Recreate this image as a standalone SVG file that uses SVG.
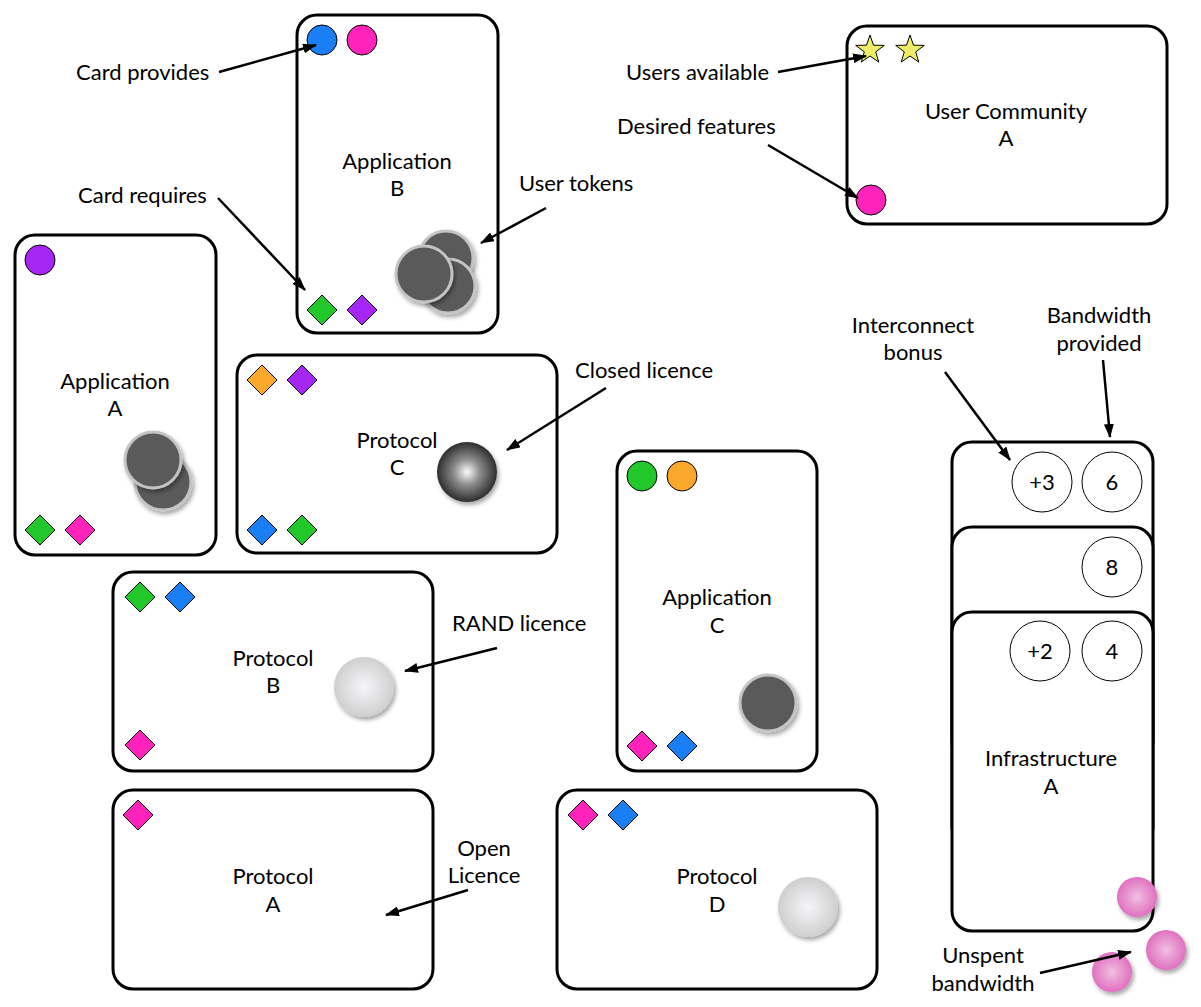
<svg xmlns="http://www.w3.org/2000/svg" width="1201" height="1007" viewBox="0 0 1201 1007">
<style>
.card{fill:#fff;stroke:#000;stroke-width:3}
.t{font-family:Lato,"Open Sans","Liberation Sans",sans-serif;font-size:22px;fill:#000;text-anchor:middle}
.l{font-family:Lato,"Open Sans","Liberation Sans",sans-serif;font-size:22px;fill:#000}
.sym{stroke:#000;stroke-width:1}
.tok{fill:#5a5a5a;stroke:#c4c4c4;stroke-width:3;filter:url(#sh)}
.num{fill:#fff;stroke:#000;stroke-width:1}
.conn line{stroke:#000;stroke-width:2.5;marker-end:url(#ah)}
</style>
<defs>
<marker id="ah" viewBox="0 0 14 10" refX="13" refY="5" markerWidth="14" markerHeight="10" markerUnits="userSpaceOnUse" orient="auto">
<path d="M0,0 L14,5 L0,10 Z" fill="#000"/>
</marker>
<filter id="sh" x="-30%" y="-30%" width="160%" height="160%">
<feDropShadow dx="2" dy="3" stdDeviation="2" flood-color="#000" flood-opacity="0.35"/>
</filter>
<radialGradient id="dark" cx="0.5" cy="0.5" r="0.5">
<stop offset="0" stop-color="#fafafa"/>
<stop offset="0.45" stop-color="#8a8a8a"/>
<stop offset="1" stop-color="#2e2e2e"/>
</radialGradient>
<radialGradient id="light" cx="0.5" cy="0.5" r="0.5">
<stop offset="0" stop-color="#f6f6fa"/>
<stop offset="1" stop-color="#cfcfcf"/>
</radialGradient>
<radialGradient id="pink" cx="0.5" cy="0.5" r="0.5">
<stop offset="0" stop-color="#f0bfe0"/>
<stop offset="1" stop-color="#e070c0"/>
</radialGradient>
<path id="dia" d="M0,-15 L15,0 L0,15 L-15,0 Z"/>
<path id="star" d="M0,-15 L3.5,-4.8 L14.3,-4.6 L5.7,1.9 L8.8,12.1 L0,6 L-8.8,12.1 L-5.7,1.9 L-14.3,-4.6 L-3.5,-4.8 Z"/>
</defs>
<rect width="1201" height="1007" fill="#fff"/>

<g id="app-b">
<rect class="card" x="297" y="15" width="201" height="318" rx="20"/>
<circle class="sym" cx="322" cy="40" r="15" fill="#1a7ff5"/>
<circle class="sym" cx="362" cy="40" r="15" fill="#ff22bb"/>
<text class="t" x="397" y="169">Application</text>
<text class="t" x="397" y="196">B</text>
<circle class="tok" cx="446" cy="258" r="27"/>
<circle class="tok" cx="448" cy="286" r="27"/>
<circle class="tok" cx="424" cy="274" r="28"/>
<use href="#dia" x="322" y="310" class="sym" fill="#22c82a"/>
<use href="#dia" x="362" y="310" class="sym" fill="#a526f5"/>
</g>

<g id="user-community-a">
<rect class="card" x="847" y="26" width="320" height="198" rx="20"/>
<use href="#star" x="870" y="50" class="sym" fill="#eeee66"/>
<use href="#star" x="910" y="50" class="sym" fill="#eeee66"/>
<text class="t" x="1006" y="119">User Community</text>
<text class="t" x="1006" y="146">A</text>
<circle class="sym" cx="871" cy="200" r="15" fill="#ff22bb"/>
</g>

<g id="app-a">
<rect class="card" x="15" y="235" width="201" height="320" rx="20"/>
<circle class="sym" cx="40" cy="260" r="15" fill="#a526f5"/>
<text class="t" x="115" y="389">Application</text>
<text class="t" x="115" y="416">A</text>
<circle class="tok" cx="163" cy="482" r="28"/>
<circle class="tok" cx="153" cy="460" r="28"/>
<use href="#dia" x="40" y="530" class="sym" fill="#22c82a"/>
<use href="#dia" x="80" y="530" class="sym" fill="#ff22bb"/>
</g>

<g id="protocol-c">
<rect class="card" x="237" y="355" width="320" height="198" rx="20"/>
<use href="#dia" x="262" y="380" class="sym" fill="#fba82c"/>
<use href="#dia" x="302" y="380" class="sym" fill="#a526f5"/>
<text class="t" x="397" y="448">Protocol</text>
<text class="t" x="397" y="475">C</text>
<circle cx="467" cy="472" r="30" fill="url(#dark)" filter="url(#sh)"/>
<use href="#dia" x="262" y="530" class="sym" fill="#1a7ff5"/>
<use href="#dia" x="302" y="530" class="sym" fill="#22c82a"/>
</g>

<g id="protocol-b">
<rect class="card" x="113" y="572" width="320" height="199" rx="20"/>
<use href="#dia" x="140" y="597" class="sym" fill="#22c82a"/>
<use href="#dia" x="180" y="597" class="sym" fill="#1a7ff5"/>
<text class="t" x="273" y="666">Protocol</text>
<text class="t" x="273" y="693">B</text>
<circle cx="364" cy="687" r="30" fill="url(#light)" filter="url(#sh)"/>
<use href="#dia" x="140" y="745" class="sym" fill="#ff22bb"/>
</g>

<g id="protocol-a">
<rect class="card" x="113" y="790" width="320" height="199" rx="20"/>
<use href="#dia" x="138" y="815" class="sym" fill="#ff22bb"/>
<text class="t" x="273" y="884">Protocol</text>
<text class="t" x="273" y="912">A</text>
</g>

<g id="app-c">
<rect class="card" x="617" y="451" width="200" height="320" rx="20"/>
<circle class="sym" cx="642" cy="476" r="15" fill="#22c82a"/>
<circle class="sym" cx="682" cy="476" r="15" fill="#fba82c"/>
<text class="t" x="717" y="605">Application</text>
<text class="t" x="717" y="633">C</text>
<circle class="tok" cx="768" cy="703" r="28"/>
<use href="#dia" x="642" y="746" class="sym" fill="#ff22bb"/>
<use href="#dia" x="682" y="746" class="sym" fill="#1a7ff5"/>
</g>

<g id="protocol-d">
<rect class="card" x="557" y="790" width="320" height="199" rx="20"/>
<use href="#dia" x="583" y="815" class="sym" fill="#ff22bb"/>
<use href="#dia" x="623" y="815" class="sym" fill="#1a7ff5"/>
<text class="t" x="717" y="884">Protocol</text>
<text class="t" x="717" y="912">D</text>
<circle cx="808" cy="907" r="30" fill="url(#light)" filter="url(#sh)"/>
</g>

<g id="infrastructure-a">
<rect class="card" x="952" y="442" width="201" height="320" rx="20"/>
<circle class="num" cx="1042" cy="482" r="30"/>
<circle class="num" cx="1112" cy="482" r="30"/>
<text class="t" x="1042" y="490">+3</text>
<text class="t" x="1112" y="490">6</text>
<rect class="card" x="952" y="527" width="201" height="320" rx="20"/>
<circle class="num" cx="1112" cy="567" r="30"/>
<text class="t" x="1112" y="575">8</text>
<rect class="card" x="952" y="612" width="201" height="319" rx="20"/>
<circle class="num" cx="1040" cy="651" r="30"/>
<circle class="num" cx="1112" cy="651" r="30"/>
<text class="t" x="1040" y="659">+2</text>
<text class="t" x="1112" y="659">4</text>
<text class="t" x="1051" y="766">Infrastructure</text>
<text class="t" x="1051" y="794">A</text>
</g>

<g id="bandwidth-tokens">
<circle cx="1137" cy="897" r="20" fill="url(#pink)" filter="url(#sh)"/>
<circle cx="1166" cy="950" r="20" fill="url(#pink)" filter="url(#sh)"/>
<circle cx="1112" cy="972" r="20" fill="url(#pink)" filter="url(#sh)"/>
</g>

<g id="labels">
<text class="l" x="76" y="80">Card provides</text>
<text class="l" x="78" y="203">Card requires</text>
<text class="l" x="519" y="191">User tokens</text>
<text class="l" x="626" y="80">Users available</text>
<text class="l" x="617" y="134">Desired features</text>
<text class="l" x="575" y="378">Closed licence</text>
<text class="l" x="452" y="631">RAND licence</text>
<text class="t" x="484" y="856">Open</text>
<text class="t" x="484" y="883">Licence</text>
<text class="t" x="913" y="333">Interconnect</text>
<text class="t" x="913" y="360">bonus</text>
<text class="t" x="1099" y="323">Bandwidth</text>
<text class="t" x="1099" y="351">provided</text>
<text class="t" x="983" y="963">Unspent</text>
<text class="t" x="983" y="991">bandwidth</text>
</g>

<g id="connectors" class="conn">
<line x1="219" y1="72" x2="316" y2="45"/>
<line x1="218" y1="198" x2="305" y2="290"/>
<line x1="546" y1="208" x2="481" y2="243"/>
<line x1="778" y1="72" x2="866" y2="56"/>
<line x1="768" y1="145" x2="858" y2="198"/>
<line x1="606" y1="388" x2="507" y2="450"/>
<line x1="497" y1="648" x2="405" y2="671"/>
<line x1="468" y1="890" x2="386" y2="915"/>
<line x1="945" y1="372" x2="1010" y2="460"/>
<line x1="1103" y1="360" x2="1110" y2="437"/>
<line x1="1040" y1="973" x2="1131" y2="952"/>
</g>
</svg>
